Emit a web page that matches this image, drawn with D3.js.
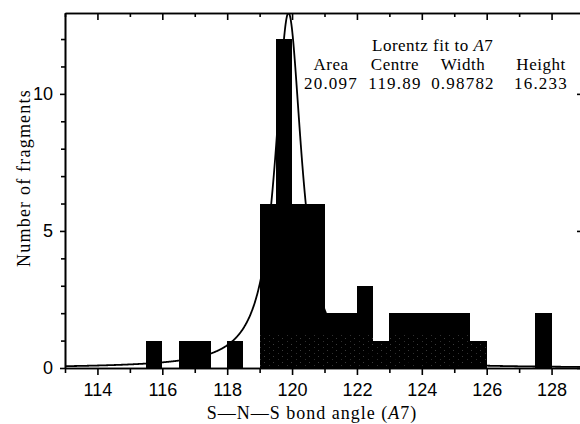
<!DOCTYPE html>
<html>
<head>
<meta charset="utf-8">
<script src="https://cdn.jsdelivr.net/npm/d3@7"></script>
<style>
  html, body { margin: 0; background: #fff; }
  svg { display: block; font-family: "Liberation Serif", "Times New Roman", serif; }
  .axis text { font-size: 18px; fill: #000; }
  .axis line, .axis path { stroke: #000; stroke-width: 1.6px; }
</style>
</head>
<body>
<svg id="chart" width="580" height="424"></svg>
<script>
// Histogram of S–N–S bond angles in 0.5° bins (left edge of each bin)
const binStarts = [115.5, 116, 116.5, 117, 117.5, 118, 118.5, 119, 119.5, 120, 120.5, 121, 121.5,
                   122, 122.5, 123, 123.5, 124, 124.5, 125, 125.5, 126, 126.5, 127, 127.5];
const binCounts = [1, 0, 1, 1, 0, 1, 0, 6, 12, 6, 6, 2, 2,
                   3, 1, 2, 2, 2, 2, 2, 1, 0, 0, 0, 2];
const binWidth = 0.5;

// Axis ticks
const xMajorTicks = [114, 116, 118, 120, 122, 124, 126, 128];
const xMinorTicks = [113, 115, 117, 119, 121, 123, 125, 127, 129];
const yMajorTicks = [0, 5, 10];
const yMinorTicks = [1, 2, 3, 4, 6, 7, 8, 9, 11, 12];

// Lorentz fit parameters
const fitHeaders = ["Area", "Centre", "Width", "Height"];
const fitValues = ["20.097", "119.89", "0.98782", "16.233"];
const fitArea = 20.097;
const fitCentre = 119.89;
const fitWidth = 0.98782;

const svg = d3.select("#chart");
const margin = { top: 13, left: 65, bottom: 56 };
const innerW = 519;
const innerH = 424 - margin.top - margin.bottom;

const x = d3.scaleLinear().domain([113, 129]).range([0, innerW]);
const y = d3.scaleLinear().domain([0, 12.95]).range([innerH, 0]);

const g = svg.append("g").attr("transform", `translate(${margin.left},${margin.top})`);

const defs = svg.append("defs");
defs.append("clipPath").attr("id", "plot-clip")
  .append("rect").attr("x", 0).attr("y", 0).attr("width", innerW).attr("height", innerH);

// faint grey stipple along the base of the printed bars
const stipple = defs.append("pattern").attr("id", "stipple")
  .attr("patternUnits", "userSpaceOnUse").attr("width", 9).attr("height", 6);
stipple.append("rect").attr("x", 1).attr("y", 1).attr("width", 1).attr("height", 1).attr("fill", "#3c3c3c");
stipple.append("rect").attr("x", 6).attr("y", 4).attr("width", 1).attr("height", 1).attr("fill", "#303030");

// Histogram bars
const bins = binStarts.map((s, i) => ({ start: s, count: binCounts[i] })).filter(d => d.count > 0);
const barG = g.append("g").attr("shape-rendering", "crispEdges");
barG.selectAll("rect.bar").data(bins).join("rect").attr("class", "bar")
  .attr("x", d => x(d.start))
  .attr("width", d => x(d.start + binWidth) - x(d.start))
  .attr("y", d => y(d.count))
  .attr("height", d => y(0) - y(d.count))
  .attr("fill", "#000");

barG.selectAll("rect.stip").data(bins.filter(d => d.start >= 119 && d.start <= 125.5)).join("rect")
  .attr("class", "stip")
  .attr("x", d => x(d.start))
  .attr("width", d => x(d.start + binWidth) - x(d.start))
  .attr("y", d => y(Math.min(d.count, 1.3)) + 3)
  .attr("height", d => y(0) - y(Math.min(d.count, 1.3)) - 4)
  .attr("fill", "url(#stipple)");

// Lorentzian: area A, full width at half maximum w, centre c
const gamma = fitWidth / 2;
const lorentz = v => (fitArea / Math.PI) * gamma / ((v - fitCentre) ** 2 + gamma ** 2);
const curvePts = d3.range(113, 129.0001, 0.01).map(v => [v, lorentz(v)]);
g.append("path")
  .attr("clip-path", "url(#plot-clip)")
  .attr("d", d3.line().x(d => x(d[0])).y(d => y(d[1]))(curvePts))
  .attr("fill", "none")
  .attr("stroke", "#000")
  .attr("stroke-width", 1.8);

// Bottom axis: labelled major ticks and short minor ticks
g.append("g").attr("class", "axis")
  .attr("transform", `translate(0,${innerH})`)
  .call(d3.axisBottom(x).tickValues(xMajorTicks).tickSize(7).tickSizeOuter(0).tickPadding(8).tickFormat(d3.format("d")));
g.append("g").attr("class", "axis")
  .attr("transform", `translate(0,${innerH})`)
  .call(d3.axisBottom(x).tickValues(xMinorTicks).tickSize(5).tickSizeOuter(0).tickFormat(""));

// Top axis: inward ticks
g.append("g").attr("class", "axis")
  .call(d3.axisTop(x).tickValues(xMajorTicks).tickSize(-7).tickSizeOuter(0).tickFormat(""));
g.append("g").attr("class", "axis")
  .call(d3.axisTop(x).tickValues(xMinorTicks).tickSize(-4).tickSizeOuter(0).tickFormat(""));

// Left axis
g.append("g").attr("class", "axis")
  .call(d3.axisLeft(y).tickValues(yMajorTicks).tickSize(5).tickSizeOuter(0).tickPadding(7).tickFormat(d3.format("d")));
g.append("g").attr("class", "axis")
  .call(d3.axisLeft(y).tickValues(yMinorTicks).tickSize(4).tickSizeOuter(0).tickFormat(""));

// Right axis: inward ticks
g.append("g").attr("class", "axis")
  .attr("transform", `translate(${innerW},0)`)
  .call(d3.axisRight(y).tickValues(yMajorTicks).tickSize(-7).tickSizeOuter(0).tickFormat(""));

// Axis titles
svg.append("text")
  .attr("transform", `translate(30,178) rotate(-90)`)
  .attr("text-anchor", "middle")
  .attr("font-size", 18)
  .attr("letter-spacing", 1.2)
  .text("Number of fragments");

const xTitle = svg.append("text")
  .attr("x", 312).attr("y", 419)
  .attr("text-anchor", "middle")
  .attr("font-size", 18)
  .attr("letter-spacing", 1);
xTitle.append("tspan").text("S—N—S bond angle (");
xTitle.append("tspan").attr("font-style", "italic").text("A");
xTitle.append("tspan").text("7)");

// Fit parameter table
const fit = svg.append("g").attr("font-size", 17).attr("text-anchor", "middle");
const fitTitle = fit.append("text").attr("x", 372).attr("y", 51)
  .attr("text-anchor", "start").attr("letter-spacing", 0.5);
fitTitle.append("tspan").text("Lorentz fit to ");
fitTitle.append("tspan").attr("font-style", "italic").text("A");
fitTitle.append("tspan").text("7");

const colX = [331, 395, 463, 541];
fit.selectAll("text.hdr").data(fitHeaders).join("text").attr("class", "hdr")
  .attr("x", (d, i) => colX[i]).attr("y", 70).attr("letter-spacing", 0.5).text(d => d);
fit.selectAll("text.val").data(fitValues).join("text").attr("class", "val")
  .attr("x", (d, i) => colX[i]).attr("y", 89).attr("letter-spacing", 1.2).text(d => d);
</script>
</body>
</html>
